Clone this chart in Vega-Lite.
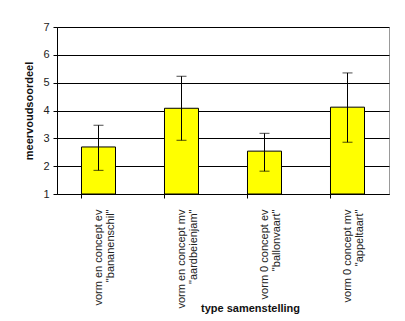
{
  "$schema": "https://vega.github.io/schema/vega-lite/v6.json",
  "width": 332,
  "height": 167,
  "autosize": {"type": "none"},
  "padding": {"left": 57, "top": 27, "right": 16, "bottom": 127},
  "background": "white",
  "config": {
    "font": "Liberation Sans",
    "view": {"stroke": "#999999", "strokeWidth": 1},
    "axis": {"labelColor": "#222222", "titleColor": "#111111", "labelFontSize": 11, "titleFontSize": 11, "titleFontWeight": "bold"},
    "axisY": {
      "title": "meervoudsoordeel",
      "values": [1, 2, 3, 4, 5, 6, 7],
      "grid": true, "gridColor": "black", "gridOpacity": 1,
      "domainColor": "black", "tickColor": "black", "tickSize": 4,
      "labelPadding": 4, "titlePadding": 8
    }
  },
  "data": {
    "values": [
      {"type": "vorm en  concept ev\n\"bananenschil\"", "mean": 2.69, "lo": 1.85, "hi": 3.47},
      {"type": "vorm en  concept mv\n\"aardbeienjam\"", "mean": 4.08, "lo": 2.93, "hi": 5.23},
      {"type": "vorm 0  concept ev\n\"ballonvaart\"", "mean": 2.54, "lo": 1.82, "hi": 3.18},
      {"type": "vorm 0  concept mv\n\"appeltaart\"", "mean": 4.12, "lo": 2.86, "hi": 5.35}
    ]
  },
  "encoding": {
    "x": {
      "field": "type", "type": "nominal", "sort": null,
      "scale": {"paddingInner": 0.59, "paddingOuter": 0.295},
      "axis": {
        "title": "type samenstelling",
        "labelAngle": -90,
        "labelExpr": "split(datum.label, '\\n')",
        "labelLineHeight": 12,
        "labelPadding": 11,
        "labelDy": -6,
        "labelLimit": 300,
        "bandPosition": 0,
        "tickColor": "black", "tickSize": 4,
        "domainColor": "black",
        "titleX": 193, "titleY": 108, "titleAnchor": "middle", "titleAlign": "center", "titleBaseline": "top"
      }
    }
  },
  "layer": [
    {
      "mark": {"type": "bar", "color": "#ffff00", "stroke": "black", "strokeWidth": 1},
      "encoding": {
        "y": {
          "field": "mean", "type": "quantitative", "title": "meervoudsoordeel",
          "scale": {"domain": [1, 7], "zero": false, "nice": false}
        },
        "y2": {"datum": 1}
      }
    },
    {
      "mark": {"type": "rule", "color": "black", "strokeWidth": 1},
      "encoding": {
        "y": {"field": "lo", "type": "quantitative", "title": "meervoudsoordeel"},
        "y2": {"field": "hi"}
      }
    },
    {
      "mark": {"type": "tick", "color": "black", "size": 10, "thickness": 1, "orient": "horizontal"},
      "encoding": {"y": {"field": "lo", "type": "quantitative", "title": "meervoudsoordeel"}}
    },
    {
      "mark": {"type": "tick", "color": "black", "size": 10, "thickness": 1, "orient": "horizontal"},
      "encoding": {"y": {"field": "hi", "type": "quantitative", "title": "meervoudsoordeel"}}
    }
  ]
}
